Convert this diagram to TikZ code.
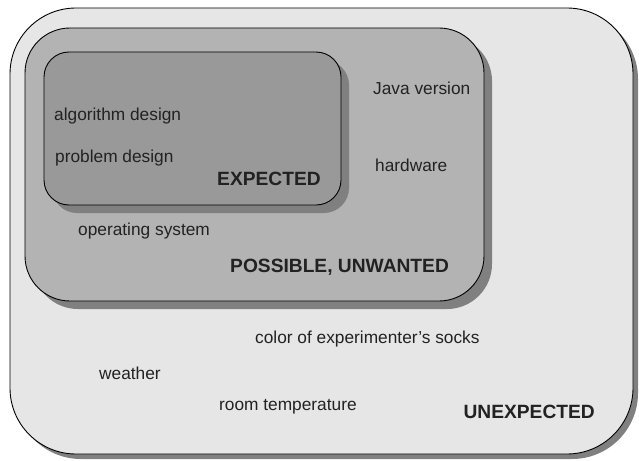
\documentclass[tikz,border=0pt]{standalone}
\usepackage{fontspec}
\setmainfont{Liberation Sans}
\definecolor{outerfill}{HTML}{E6E6E6}
\definecolor{midfill}{HTML}{B3B3B3}
\definecolor{innerfill}{HTML}{999999}
\definecolor{shadowgray}{HTML}{808080}
\definecolor{ink}{HTML}{222222}
\tikzset{
  region/.style={draw=black, line width=0.9pt},
  shade box/.style={fill=shadowgray, draw=none},
  item/.style={inner sep=0pt, anchor=base west, text=ink, font=\fontsize{17.3}{20}\selectfont},
  heading/.style={inner sep=0pt, text=ink, font=\fontsize{19.2}{22}\selectfont\bfseries},
}
\begin{document}
\begin{tikzpicture}[x=1pt, y=-1pt]
\useasboundingbox (0,0) rectangle (639,460);
\fill[white] (0,0) rectangle (639,460);

% unexpected factors
\fill[shade box, rounded corners=66pt] (15,13) rectangle (638,459);
\draw[region, fill=outerfill, rounded corners=66pt] (10,8) rectangle (633,454);

% possible but unwanted factors
\fill[shade box, rounded corners=45pt] (33,36) rectangle (492,309);
\draw[region, fill=midfill, rounded corners=45pt] (25,28) rectangle (484,301);

% expected factors
\fill[shade box, rounded corners=25pt] (52,60) rectangle (349,213);
\draw[region, fill=innerfill, rounded corners=25pt] (44,52) rectangle (341,205);

% labels
\node[item] (alg) at (54,120.7) {algorithm design};
\node[item] (prob) at (55,162.5) {problem design};
\node[heading, anchor=base west] (exp) at (217,185) {EXPECTED};

\node[item] (java) at (373,94.3) {Java version};
\node[item] (hw) at (375,171.7) {hardware};
\node[item] (os) at (78,235.7) {operating system};
\node[heading, anchor=base west] (pos) at (230,272.7) {POSSIBLE, UNWANTED};

\node[item] (socks) at (255,343.3) {color of experimenter\char"0027 s socks};
\node[item] (weather) at (99,379) {weather};
\node[item] (room) at (219,410) {room temperature};
\node[heading, anchor=base east] (unexp) at (595,418) {UNEXPECTED};
\end{tikzpicture}
\end{document}
